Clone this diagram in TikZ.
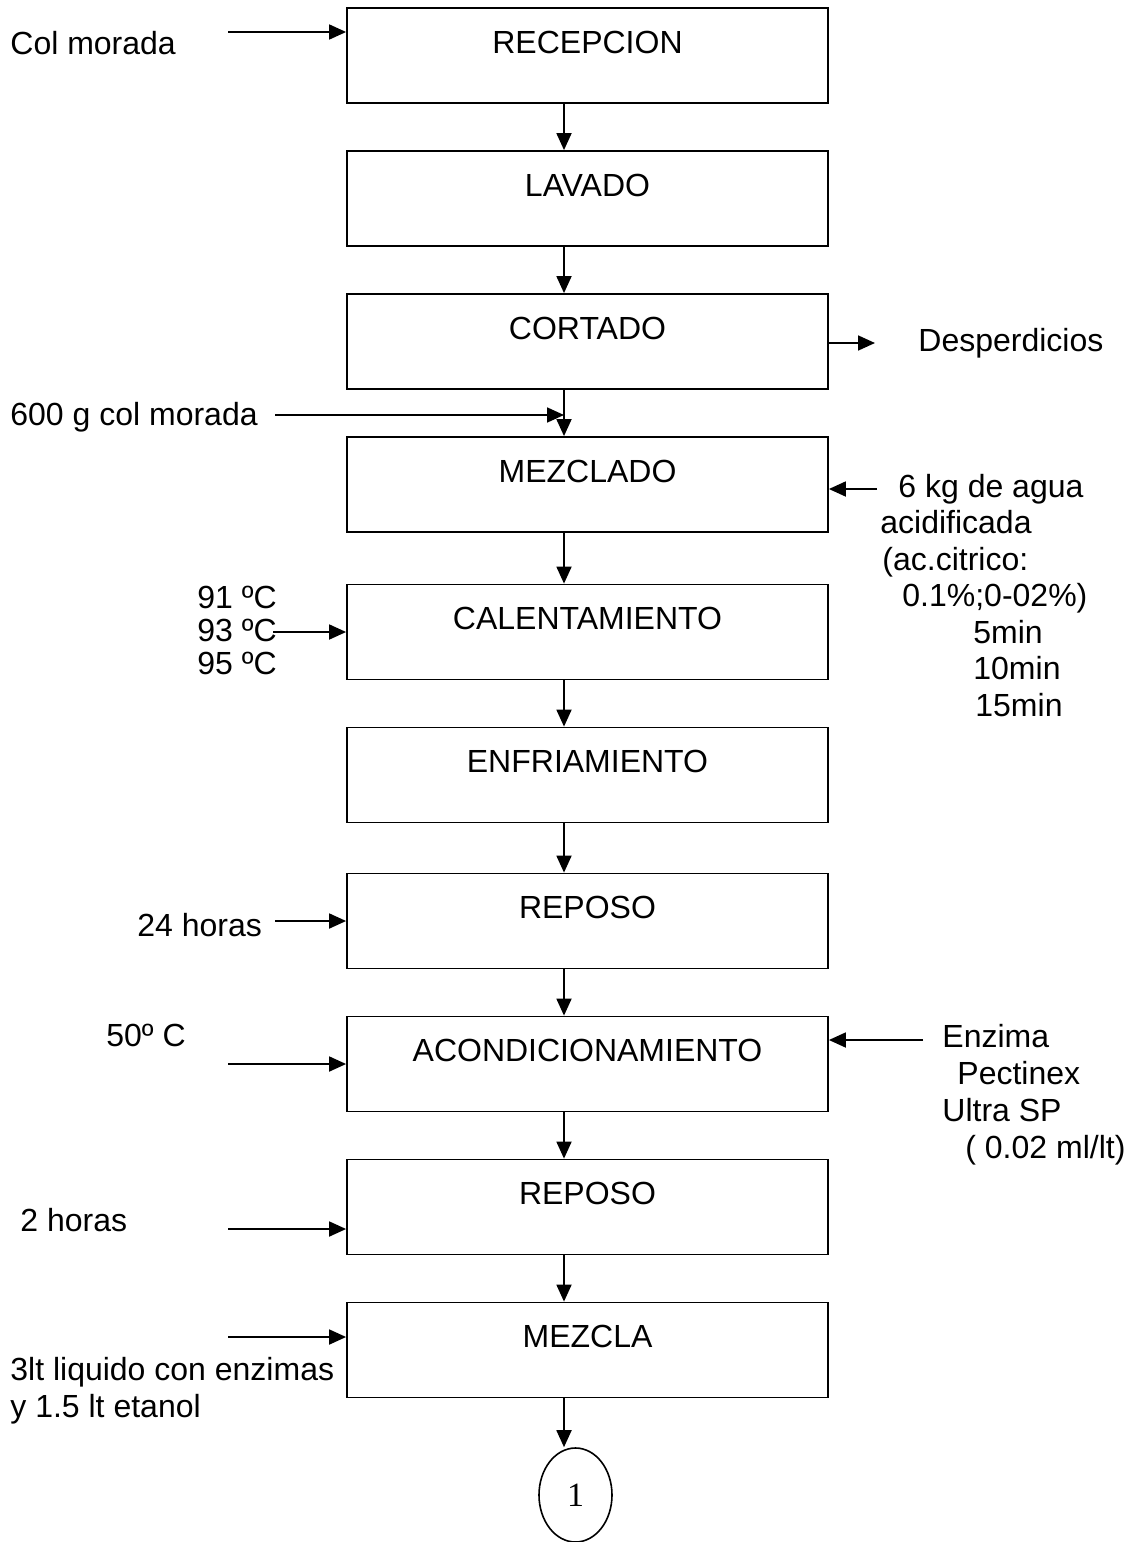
\documentclass[tikz,border=0pt]{standalone}
\usepackage{fontspec}
\setmainfont{Liberation Sans}
\newfontfamily\serifuno{Liberation Serif}
\usetikzlibrary{arrows.meta, shapes, positioning}

\begin{document}
\begin{tikzpicture}[x=0.5pt, y=-0.5pt, node distance=71.5pt, on grid,
	every node/.style={font=\fontsize{16}{18.5}\selectfont},
	etapa/.style={draw, line width=0.9pt, minimum width=240.5pt, inner ysep=0pt, text height=22.7pt, text depth=24.8pt},
	flecha/.style={-{Triangle[length=8.5pt,width=7.5pt]}, line width=0.9pt},
	nota/.style={inner sep=0pt, align=left, anchor=north west}]
	\useasboundingbox (0,0) rectangle (1131,1542);
	% etapas del proceso
	\node[etapa] (b1) at (587.5,55.5) {RECEPCION};
	\node[etapa, below=of b1] (b2) {LAVADO};
	\node[etapa, below=of b2] (b3) {CORTADO};
	\node[etapa, below=of b3] (b4) {MEZCLADO};
	\node[etapa, below=73.75pt of b4] (b5) {CALENTAMIENTO};
	\node[etapa, below=of b5] (b6) {ENFRIAMIENTO};
	\node[etapa, below=73pt of b6] (b7) {REPOSO};
	\node[etapa, below=of b7] (b8) {ACONDICIONAMIENTO};
	\node[etapa, below=of b8] (b9) {REPOSO};
	\node[etapa, below=of b9] (b10) {MEZCLA};
	\node[draw, ellipse, line width=0.8pt, minimum width=36.5pt, minimum height=47pt, inner sep=0pt,
		font=\serifuno\fontsize{17}{18}\selectfont] (uno) at (575.5,1495) {1};

	\foreach \a/\b in {b1/b2,b2/b3,b3/b4,b4/b5,b5/b6,b6/b7,b7/b8,b8/b9,b9/b10}
		\draw[flecha] ([xshift=-11.75pt]\a.south) -- ([xshift=-11.75pt]\b.north);
	\draw[flecha] ([xshift=-11.75pt]b10.south) -- ([xshift=-11.75pt]b10.south |- uno.north);

	% entradas y salidas
	\node[nota] (col) at (10,30.5) {Col morada};
	\node[nota] (seis) at (10,401.5) {600 g col morada};
	\node[nota, font=\fontsize{16}{16.5}\selectfont] (temp) at (197,585.5) {91 ºC\\93 ºC\\95 ºC};
	\node[nota] (desp) at (918,327.5) {Desperdicios};
	\node[nota, font=\fontsize{16}{18.25}\selectfont] (agua) at (880,473.5) {\hspace*{9pt}6 kg de agua\\acidificada\\\hspace*{1pt}(ac.citrico:\\\hspace*{11pt}0.1\%;0-02\%)\\\hspace*{46.5pt}5min\\\hspace*{46.5pt}10min\\\hspace*{47.5pt}15min};
	\node[nota] (h24) at (137,912.5) {24 horas};
	\node[nota] (c50) at (106,1023.5) {50º C};
	\node[nota] (enz) at (942,1023.5) {Enzima\\\hspace*{7.5pt}Pectinex\\Ultra SP\\\hspace*{11.5pt}( 0.02 ml/lt)};
	\node[nota] (h2) at (20,1207.5) {2 horas};
	\node[nota] (liq) at (10,1356.5) {3lt liquido con enzimas\\y 1.5 lt etanol};

	\coordinate (e1) at (228,32);
	\coordinate (e2) at (275,415);
	\coordinate (junta) at (564,415);
	\coordinate (e5) at (273,632);
	\coordinate (e7) at (275,921);
	\coordinate (e8) at (228,1064);
	\coordinate (e9) at (228,1229);
	\coordinate (e10) at (228,1337);
	\coordinate (s3) at (875,343);
	\coordinate (d4) at (877,489);
	\coordinate (d8) at (923,1040);

	\draw[flecha] (e1) -- (e1 -| b1.west);
	\draw[flecha] (e2) -- (junta);
	\draw[flecha] (e5) -- (e5 -| b5.west);
	\draw[flecha] (e7) -- (e7 -| b7.west);
	\draw[flecha] (e8) -- (e8 -| b8.west);
	\draw[flecha] (e9) -- (e9 -| b9.west);
	\draw[flecha] (e10) -- (e10 -| b10.west);
	\draw[flecha] (b3.east |- s3) -- (s3);
	\draw[flecha] (d4) -- (d4 -| b4.east);
	\draw[flecha] (d8) -- (d8 -| b8.east);
\end{tikzpicture}
\end{document}
